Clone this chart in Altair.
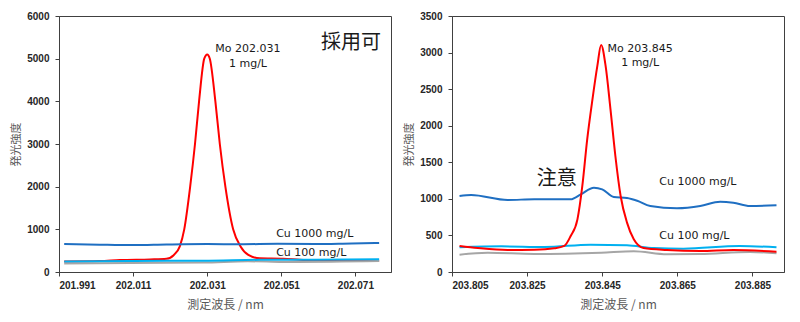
import altair as alt
import pandas as pd

# ---------------- Left panel: Mo 202.031 ----------------
L_red_wl = [201.9924, 202.0020, 202.0074, 202.0155, 202.0200, 202.0220, 202.0236, 202.0248,
            202.0264, 202.0277, 202.0288, 202.0302, 202.0310, 202.0317, 202.0332, 202.0344,
            202.0359, 202.0380, 202.0400, 202.0421, 202.0452, 202.0515, 202.0560, 202.0650, 202.0774]
L_red_int = [245, 255, 280, 295, 310, 400, 600, 1000,
             2000, 3000, 4000, 5000, 5100, 5000, 4000, 3000,
             2000, 1000, 600, 400, 320, 310, 290, 260, 265]

L_cu1000_wl = [201.9924, 202.0020, 202.0110, 202.0200, 202.0310, 202.0400, 202.0500, 202.0600, 202.0700, 202.0774]
L_cu1000_int = [656, 640, 630, 645, 656, 650, 660, 655, 670, 680]

L_cu100_wl = [201.9924, 202.0100, 202.0300, 202.0450, 202.0600, 202.0774]
L_cu100_int = [245, 260, 265, 285, 290, 300]

L_blank_wl = [201.9924, 202.0100, 202.0300, 202.0420, 202.0550, 202.0774]
L_blank_int = [200, 210, 220, 250, 235, 255]

L_xticks = [201.991, 202.011, 202.031, 202.051, 202.071]
L_yticks = [0, 1000, 2000, 3000, 4000, 5000, 6000]
L_xdomain = [201.991, 202.0806]
L_ydomain = [0, 6000]

# ---------------- Right panel: Mo 203.845 ----------------
R_red_wl = [203.8070, 203.8119, 203.8198, 203.8269, 203.8322, 203.8349, 203.8366, 203.8384,
            203.8397, 203.8410, 203.8424, 203.8437, 203.8447, 203.8459, 203.8472, 203.8485,
            203.8499, 203.8516, 203.8534, 203.8560, 203.8622, 203.8711, 203.8799, 203.8914]
R_red_int = [356, 328, 301, 305, 324, 356, 492, 720,
             1176, 1814, 2361, 2817, 3104, 2817, 2224, 1586,
             1039, 675, 447, 328, 301, 287, 301, 278]

R_cu1000_wl = [203.8070, 203.8101, 203.8198, 203.8269, 203.8322, 203.8366, 203.8393, 203.8428,
               203.8450, 203.8481, 203.8516, 203.8543, 203.8578, 203.8649, 203.8711, 203.8764,
               203.8799, 203.8843, 203.8914]
R_cu1000_int = [1039, 1053, 985, 994, 994, 994, 1062, 1153,
                1130, 1026, 1012, 975, 902, 871, 902, 962,
                948, 902, 912]

R_cu100_wl = [203.8070, 203.8181, 203.8296, 203.8419, 203.8516, 203.8587, 203.8666, 203.8816, 203.8914]
R_cu100_int = [337, 351, 342, 374, 365, 328, 319, 356, 337]

R_blank_wl = [203.8070, 203.8145, 203.8269, 203.8447, 203.8534, 203.8622, 203.8711, 203.8843, 203.8914]
R_blank_int = [237, 264, 246, 264, 283, 242, 246, 274, 255]

R_xticks = [203.805, 203.825, 203.845, 203.865, 203.885]
R_yticks = [0, 500, 1000, 1500, 2000, 2500, 3000, 3500]
R_xdomain = [203.805, 203.8934]
R_ydomain = [0, 3500]

# ---------------- Annotations ----------------
L_center_text = ["Mo 202.031", "1 mg/L"]
L_center_x = [202.042, 202.042]
L_center_y = [5219, 4868]
L_left_text = ["Cu 1000 mg/L", "Cu 100 mg/L"]
L_left_x = [202.0496, 202.0496]
L_left_y = [884, 438]
L_big_text = ["採用可"]
L_big_x = [202.0698]
L_big_y = [5360]

R_center_text = ["Mo 203.845", "1 mg/L"]
R_center_x = [203.8551, 203.8551]
R_center_y = [3045, 2853]
R_left_text = ["Cu 1000 mg/L", "Cu 100 mg/L"]
R_left_x = [203.8602, 203.8602]
R_left_y = [1226, 488]
R_big_text = ["注意"]
R_big_x = [203.8329]
R_big_y = [1267]

X_TITLE = "測定波長 / nm"
Y_TITLE = "発光強度"

RED = "#ff0000"
BLUE = "#1f6fc2"
CYAN = "#00b0f0"
GRAY = "#a6a6a6"
AXIS_COL = "#404040"


def panel(series, xdomain, ydomain, xticks, yticks, center, left, big):
    xs = alt.Scale(domain=xdomain, nice=False, zero=False)
    ys = alt.Scale(domain=ydomain, nice=False)
    xax = alt.Axis(values=xticks, format=".3f", title=X_TITLE, grid=False)
    yax = alt.Axis(values=yticks, format="d", title=Y_TITLE, grid=False)
    X = alt.X("wl:Q", scale=xs, axis=xax)
    Y = alt.Y("v:Q", scale=ys, axis=yax)
    layers = []
    for (wl, val, col) in series:
        layers.append(
            alt.Chart(pd.DataFrame({"wl": wl, "v": val}))
            .mark_line(color=col, strokeWidth=2, interpolate="monotone")
            .encode(x=X, y=Y)
        )

    def tlayer(txt, x, y, **kw):
        return alt.Chart(pd.DataFrame({"t": txt, "wl": x, "v": y})).mark_text(**kw).encode(
            x=X, y=Y, text="t:N",
        )

    layers.append(tlayer(*center, align="center", baseline="middle", font="DejaVu Sans",
                         fontSize=11, color="#1a1a1a"))
    layers.append(tlayer(*left, align="left", baseline="middle", font="DejaVu Sans",
                         fontSize=11, color="#1a1a1a"))
    layers.append(tlayer(*big, align="center", baseline="middle", font="Noto Sans CJK JP",
                         fontSize=20, color="#1a1a1a"))
    return alt.layer(*layers).properties(width=332, height=256)


left = panel(
    [(L_red_wl, L_red_int, RED), (L_blank_wl, L_blank_int, GRAY),
     (L_cu100_wl, L_cu100_int, CYAN), (L_cu1000_wl, L_cu1000_int, BLUE)],
    L_xdomain, L_ydomain, L_xticks, L_yticks,
    (L_center_text, L_center_x, L_center_y),
    (L_left_text, L_left_x, L_left_y),
    (L_big_text, L_big_x, L_big_y),
)
right = panel(
    [(R_blank_wl, R_blank_int, GRAY), (R_cu100_wl, R_cu100_int, CYAN),
     (R_cu1000_wl, R_cu1000_int, BLUE), (R_red_wl, R_red_int, RED)],
    R_xdomain, R_ydomain, R_xticks, R_yticks,
    (R_center_text, R_center_x, R_center_y),
    (R_left_text, R_left_x, R_left_y),
    (R_big_text, R_big_x, R_big_y),
)

chart = (
    alt.hconcat(left, right, spacing=11)
    .properties(padding={"left": 10, "top": 10, "right": 5, "bottom": 5}, background="white")
    .configure_view(stroke=AXIS_COL, strokeWidth=1)
    .configure_axis(
        domainColor=AXIS_COL, tickColor=AXIS_COL, tickSize=4,
        labelFont="Liberation Sans", labelFontSize=10, labelFontWeight="bold",
        labelColor="#262626",
        titleFont="Noto Sans CJK JP", titleColor="#595959", titleFontWeight="normal",
    )
    .configure_axisX(titleFontSize=12, titlePadding=9, labelPadding=4)
    .configure_axisY(titleFontSize=11, titlePadding=5, labelPadding=6)
)

chart.save("out.html", embed_options={"renderer": "svg", "actions": False})
